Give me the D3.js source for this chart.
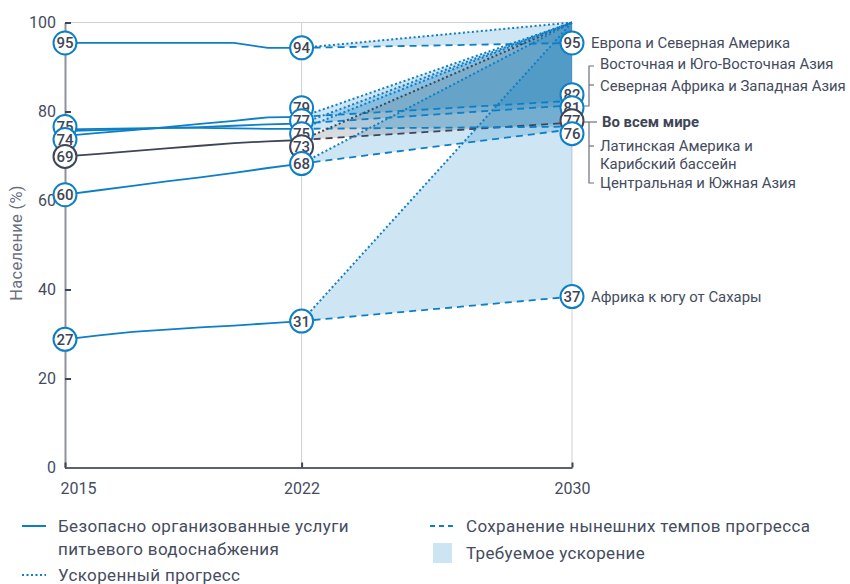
<!DOCTYPE html>
<html>
<head>
<meta charset="utf-8">
<script src="https://cdn.jsdelivr.net/npm/d3@7"></script>
<style>
  body { margin: 0; background: #fff; }
  text { font-family: Roboto, "Noto Sans", sans-serif; }
</style>
</head>
<body>
<div id="chart"></div>
<script>
// data (axis units, %)
var years = [2015, 2016, 2017, 2018, 2019, 2020, 2021, 2022];
var regions = ["Европа и Северная Америка", "Восточная и Юго-Восточная Азия", "Северная Африка и Западная Азия",
  "Во всем мире", "Латинская Америка и Карибский бассейн", "Центральная и Южная Азия", "Африка к югу от Сахары"];
var europe = [95.4, 95.4, 95.4, 95.4, 95.4, 95.4, 94.3, 94.3];
var eastAsia = [74.5, 75.2, 75.8, 76.5, 77.2, 77.9, 78.7, 78.8];
var northAfrica = [75.6, 75.8, 76.0, 76.3, 76.5, 76.8, 77.1, 77.3];
var world = [69.9, 70.5, 71.1, 71.7, 72.3, 72.9, 73.3, 73.6];
var latAm = [76.0, 76.1, 76.2, 76.3, 76.3, 76.2, 76.1, 76.1];
var southAsia = [61.3, 62.3, 63.3, 64.3, 65.2, 66.2, 67.3, 68.3];
var africa = [28.8, 29.7, 30.5, 31.0, 31.5, 31.9, 32.4, 32.9];
var pace2030 = [95.4, 82.4, 81.4, 77.5, 76.6, 76.0, 38.4];
var target2030 = 100;
var labels2015 = ["95", "74", "75", "69", "75", "60", "27"];
var labels2022 = ["94", "79", "77", "73", "75", "68", "31"];
var labels2030 = ["95", "82", "81", "77", "76", "76", "37"];
var yTicks = [0, 20, 40, 60, 80, 100];
var xTicks = [2015, 2022, 2030];

var allValues = [europe, eastAsia, northAfrica, world, latAm, southAsia, africa];
var series = regions.map(function(r, i) {
  return { name: r, values: allValues[i], pace: pace2030[i], world: i === 3,
    l15: labels2015[i], l22: labels2022[i], l30: labels2030[i] };
});

var blue = "#0d7fc5", dark = "#3e4556", textCol = "#454c5e";

var width = 850, height = 584;
var svg = d3.select("#chart").append("svg")
  .attr("width", width).attr("height", height);

var x = d3.scaleLinear().domain([2015, 2030]).range([65, 572]);
var y = d3.scaleLinear().domain([0, 100]).range([467.5, 22.5]);

// grid
svg.append("line").attr("x1", x(2015)).attr("x2", x(2030)).attr("y1", y(100)).attr("y2", y(100))
  .attr("stroke", "#cfd0d5").attr("stroke-width", 1);
svg.selectAll(".vgrid").data([2022, 2030]).enter().append("line")
  .attr("x1", d => x(d)).attr("x2", d => x(d)).attr("y1", y(100)).attr("y2", y(0))
  .attr("stroke", "#cfd0d5").attr("stroke-width", 1);

// required acceleration areas
var pt = d3.line().x(d => x(d[0])).y(d => y(d[1]));
svg.selectAll(".area").data(series).enter().append("path")
  .attr("d", d => pt([[2022, d.values[7]], [2030, d.pace], [2030, target2030]]) + "Z")
  .attr("fill", d => d.world ? "#7a7f8a" : "#0a7bc4")
  .attr("fill-opacity", d => d.world ? 0.28 : 0.2);

// current pace (dashed) and accelerated (dotted)
svg.selectAll(".pace").data(series).enter().append("path")
  .attr("d", d => pt([[2022, d.values[7]], [2030, d.pace]]))
  .attr("fill", "none").attr("stroke", d => d.world ? dark : blue)
  .attr("stroke-width", 1.8).attr("stroke-dasharray", "7,5");
svg.selectAll(".accel").data(series).enter().append("path")
  .attr("d", d => pt([[2022, d.values[7]], [2030, target2030]]))
  .attr("fill", "none").attr("stroke", d => d.world ? dark : blue)
  .attr("stroke-width", 2).attr("stroke-dasharray", "2,2.5");

// axes
var yAxis = svg.append("g").attr("transform", "translate(" + x(2015) + ",0)")
  .call(d3.axisLeft(y).tickValues(yTicks).tickSizeInner(-6).tickSizeOuter(0).tickPadding(9));
yAxis.select(".domain").attr("stroke", "#8e929c").attr("stroke-width", 2);
yAxis.selectAll(".tick line").attr("stroke", dark).attr("stroke-width", 2);
yAxis.selectAll(".tick text").attr("fill", textCol).style("font-size", "16px");

var xAxis = svg.append("g").attr("transform", "translate(0," + y(0) + ")")
  .call(d3.axisBottom(x).tickValues(xTicks).tickFormat(d3.format("d")).tickSizeInner(-5).tickSizeOuter(0).tickPadding(15));
xAxis.select(".domain").attr("stroke", "#5c6272").attr("stroke-width", 2);
xAxis.selectAll(".tick line").attr("stroke", dark).attr("stroke-width", 2);
xAxis.selectAll(".tick text").attr("fill", textCol).style("font-size", "16px")
  .attr("dx", d => d === 2015 ? 13 : 0);

svg.append("text").attr("transform", "translate(22,243) rotate(-90)")
  .attr("text-anchor", "middle").attr("fill", "#6b7080").style("font-size", "16.5px")
  .style("letter-spacing", "0.3px")
  .text("Население (%)");

// observed lines
var line = d3.line().x((d, j) => x(years[j])).y(d => y(d));
svg.selectAll(".obs").data(series).enter().append("path")
  .attr("d", d => line(d.values))
  .attr("fill", "none").attr("stroke", d => d.world ? dark : blue).attr("stroke-width", 1.8);

// value circles, merged where labels coincide, then pushed apart
function column(year, key, val) {
  var items = [];
  series.forEach(function(s) {
    var py = y(val(s));
    var same = items.find(it => it.text === s[key] && Math.abs(it.y - py) < 8);
    if (same) { same.n += 1; same.y += (py - same.y) / same.n; }
    else items.push({ year: year, text: s[key], y: py, n: 1, world: s.world });
  });
  items.sort((a, b) => a.y - b.y);
  var gap = 13;
  for (var k = 0; k < 200; k++) {
    for (var j = 1; j < items.length; j++) {
      var d = items[j].y - items[j - 1].y;
      if (d < gap) { items[j - 1].y -= (gap - d) / 2; items[j].y += (gap - d) / 2; }
    }
  }
  return items;
}
var marks = column(2015, "l15", s => s.values[0])
  .concat(column(2022, "l22", s => s.values[7]))
  .concat(column(2030, "l30", s => s.pace));

var g = svg.selectAll(".mark").data(marks).enter().append("g")
  .attr("transform", d => "translate(" + x(d.year) + "," + d.y + ")");
g.append("circle").attr("r", 11.5).attr("fill", "#fff")
  .attr("stroke", d => d.world ? dark : blue).attr("stroke-width", 2);
g.append("text").attr("text-anchor", "middle").attr("dy", "0.36em")
  .attr("fill", dark).style("font-size", "15px").style("font-weight", 500)
  .text(d => d.text);

// region names on the right
var names = [
  { t: "Европа и Северная Америка", x: 591, y: 43 },
  { t: "Восточная и Юго-Восточная Азия", x: 600, y: 64 },
  { t: "Северная Африка и Западная Азия", x: 600, y: 86 },
  { t: "Во всем мире", x: 602, y: 122, bold: true },
  { t: "Латинская Америка и", x: 600, y: 146 },
  { t: "Карибский бассейн", x: 600, y: 164 },
  { t: "Центральная и Южная Азия", x: 600, y: 183 },
  { t: "Африка к югу от Сахары", x: 591, y: 297 }
];
svg.selectAll(".name").data(names).enter().append("text")
  .attr("x", d => d.x).attr("y", d => d.y).attr("dy", "0.35em")
  .attr("fill", d => d.bold ? dark : textCol)
  .style("font-size", "14.9px").style("font-weight", d => d.bold ? 700 : 400)
  .text(d => d.t);

var brackets = [
  [[594, 66], [589, 66], [589, 106], [584, 106]],
  [[594, 85], [589, 85]],
  [[584, 122], [597, 122]],
  [[589, 122], [589, 183], [594, 183]],
  [[589, 146], [594, 146]]
];
svg.selectAll(".bracket").data(brackets).enter().append("path")
  .attr("d", d => d3.line()(d)).attr("fill", "none")
  .attr("stroke", "#6b7080").attr("stroke-width", 1.2);

// legend
var lg = svg.append("g").style("font-size", "17px").style("letter-spacing", "0.35px").attr("fill", textCol);
lg.append("line").attr("x1", 22).attr("x2", 46).attr("y1", 526).attr("y2", 526)
  .attr("stroke", blue).attr("stroke-width", 2);
lg.append("text").attr("x", 58).attr("y", 526).attr("dy", "0.35em").text("Безопасно организованные услуги");
lg.append("text").attr("x", 58).attr("y", 549).attr("dy", "0.35em").text("питьевого водоснабжения");
lg.append("line").attr("x1", 22).attr("x2", 46).attr("y1", 575).attr("y2", 575)
  .attr("stroke", blue).attr("stroke-width", 2).attr("stroke-dasharray", "2,2.5");
lg.append("text").attr("x", 58).attr("y", 575).attr("dy", "0.35em").text("Ускоренный прогресс");
lg.append("line").attr("x1", 430).attr("x2", 455).attr("y1", 526).attr("y2", 526)
  .attr("stroke", blue).attr("stroke-width", 2).attr("stroke-dasharray", "5,4");
lg.append("text").attr("x", 466).attr("y", 526).attr("dy", "0.35em").text("Сохранение нынешних темпов прогресса");
lg.append("rect").attr("x", 433).attr("y", 543).attr("width", 19).attr("height", 20).attr("fill", "#cde4f2");
lg.append("text").attr("x", 466).attr("y", 553).attr("dy", "0.35em").text("Требуемое ускорение");
</script>
</body>
</html>
